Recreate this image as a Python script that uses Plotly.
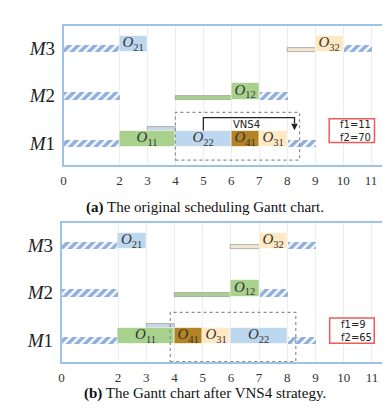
import plotly.graph_objects as go

# ---- data -------------------------------------------------------------
MACHINES = [1, 2, 3]
MACHINE_LABELS = ["<i>M</i>1", "<i>M</i>2", "<i>M</i>3"]
X_TICKS = [0, 2, 3, 4, 5, 6, 7, 8, 9, 10, 11]

# (a) original schedule
ops_a_name = ["11", "22", "41", "31", "12", "21", "32"]
ops_a_job = [1, 2, 4, 3, 1, 2, 3]
ops_a_machine = [1, 1, 1, 1, 2, 3, 3]
ops_a_start = [2, 4, 6, 7, 6, 2, 9]
ops_a_end = [4, 6, 7, 8, 7, 3, 10]

idle_a_machine = [1, 1, 2, 2, 3, 3]
idle_a_start = [0, 8, 0, 7, 0, 10]
idle_a_end = [2, 9, 2, 8, 2, 11]

wait_a_job = [2, 1, 3]
wait_a_machine = [1, 2, 3]
wait_a_start = [3, 4, 8]
wait_a_end = [4, 6, 9]

f_a = [11, 70]

# (b) after VNS4
ops_b_name = ["11", "41", "31", "22", "12", "21", "32"]
ops_b_job = [1, 4, 3, 2, 1, 2, 3]
ops_b_machine = [1, 1, 1, 1, 2, 3, 3]
ops_b_start = [2, 4, 5, 6, 6, 2, 7]
ops_b_end = [4, 5, 6, 8, 7, 3, 8]

idle_b_machine = [1, 1, 2, 2, 3, 3]
idle_b_start = [0, 8, 0, 7, 0, 8]
idle_b_end = [2, 9, 2, 8, 2, 9]

wait_b_job = [2, 1, 3]
wait_b_machine = [1, 2, 3]
wait_b_start = [3, 4, 6]
wait_b_end = [4, 6, 7]

f_b = [9, 65]

# ---- style ------------------------------------------------------------
JOB_COLORS = {1: "#A9D18E", 2: "#BDD7EE", 3: "#FEE9C2", 4: "#B38326"}
WAIT_COLORS = {1: "#A9D18E", 2: "#CAD6E8", 3: "#F2E6CF"}
HATCH = "#255DBE"
FRAME = "#9DC3E6"
SERIF = "Liberation Serif"

BOX_H = 0.34
IDLE_H = 0.15
WAIT_H = 0.085

fig = go.Figure()


def add_panel(xa, ya, names, jobs, mach, st, en,
              imach, ist, ien, wjob, wmach, wst, wen):
    xref = "x" if xa == 1 else "x%d" % xa
    yref = "y" if ya == 1 else "y%d" % ya
    # idle (hatched)
    fig.add_trace(go.Bar(
        orientation="h", base=ist,
        x=[e - s for s, e in zip(ist, ien)],
        y=[m + IDLE_H / 2 for m in imach], width=IDLE_H,
        marker=dict(color="white", opacity=1, line=dict(width=0),
                    pattern=dict(shape="/", fgcolor=HATCH, bgcolor="white",
                                 size=6, solidity=0.6)),
        xaxis=xref, yaxis=yref, showlegend=False, hoverinfo="skip"))
    # waiting bars (thin, dotted edge)
    wy = []
    for j, m, s, e in zip(wjob, wmach, wst, wen):
        busy = any(mm == m and ss < e and ee > s
                   for mm, ss, ee in zip(mach, st, en))
        wy.append(m + (BOX_H if busy else 0) + WAIT_H / 2)
    fig.add_trace(go.Bar(
        orientation="h", base=wst,
        x=[e - s for s, e in zip(wst, wen)], y=wy, width=WAIT_H,
        marker=dict(color=[WAIT_COLORS[j] for j in wjob], opacity=1,
                    line=dict(color="#A0A0A0", width=0.8)),
        xaxis=xref, yaxis=yref, showlegend=False, hoverinfo="skip"))
    # operations
    fig.add_trace(go.Bar(
        orientation="h", base=st,
        x=[e - s for s, e in zip(st, en)],
        y=[m + BOX_H / 2 for m in mach], width=BOX_H,
        marker=dict(color=[JOB_COLORS[j] for j in jobs], opacity=1,
                    line=dict(color="rgba(255,255,255,0.6)", width=1)),
        text=["<i>O</i><sub>%s</sub>" % n for n in names],
        textposition="inside", insidetextanchor="middle",
        constraintext="none", textangle=0,
        textfont=dict(family=SERIF, size=15, color="#333333"),
        xaxis=xref, yaxis=yref, showlegend=False, hoverinfo="skip"))


add_panel(1, 1, ops_a_name, ops_a_job, ops_a_machine, ops_a_start, ops_a_end,
          idle_a_machine, idle_a_start, idle_a_end,
          wait_a_job, wait_a_machine, wait_a_start, wait_a_end)
add_panel(2, 2, ops_b_name, ops_b_job, ops_b_machine, ops_b_start, ops_b_end,
          idle_b_machine, idle_b_start, idle_b_end,
          wait_b_job, wait_b_machine, wait_b_start, wait_b_end)

xcommon = dict(range=[0, 11.5], tickvals=X_TICKS, showgrid=True,
               gridcolor="#EDEDED", gridwidth=1, zeroline=False,
               showline=True, linecolor=FRAME, linewidth=1.5, mirror=True,
               ticks="", ticklabelstandoff=3,
               tickfont=dict(family=SERIF, size=13, color="#333333"))
ycommon = dict(range=[0.63, 3.54],
               tickvals=[m + 0.08 for m in MACHINES], ticktext=MACHINE_LABELS,
               showgrid=False, zeroline=False,
               showline=True, linecolor=FRAME, linewidth=1.5, mirror=True,
               ticks="outside", ticklen=3, tickcolor="rgba(0,0,0,0)",
               tickfont=dict(family=SERIF, size=19, color="#222222"))

shapes = [
    # dotted VNS4 window
    dict(type="rect", xref="x", yref="y", x0=4, x1=8.44, y0=0.73, y1=1.73,
         line=dict(color="#8C8C8C", width=1.2, dash="dot")),
    dict(type="rect", xref="x2", yref="y2", x0=3.85, x1=8.3, y0=0.64, y1=1.67,
         line=dict(color="#8C8C8C", width=1.2, dash="dot")),
    # VNS4 move bracket
    dict(type="path", xref="x", yref="y",
         path="M 5,1.35 L 5,1.62 L 8.26,1.62 L 8.26,1.5",
         line=dict(color="#222222", width=1.3)),
    # objective boxes
    dict(type="rect", xref="x", yref="y", x0=9.5, x1=11.12, y0=1.1, y1=1.6,
         line=dict(color="#F05A5A", width=1.5), fillcolor="white", layer="above"),
    dict(type="rect", xref="x2", yref="y2", x0=9.5, x1=11.08, y0=1.02, y1=1.55,
         line=dict(color="#F05A5A", width=1.5), fillcolor="white", layer="above"),
]

annotations = [
    dict(xref="x", yref="y", x=8.26, y=1.36, ax=8.26, ay=1.52,
         axref="x", ayref="y", text="", showarrow=True,
         arrowhead=2, arrowsize=1, arrowwidth=1.3, arrowcolor="#222222"),
    dict(xref="x", yref="y", x=6.55, y=1.48, text="VNS4", showarrow=False,
         font=dict(family="DejaVu Sans", size=10, color="#222222")),
    dict(xref="x", yref="y", x=9.82, y=1.35, xanchor="left",
         text="f1=%d<br>f2=%d" % (f_a[0], f_a[1]), showarrow=False, align="left",
         font=dict(family="DejaVu Sans", size=10, color="#222222")),
    dict(xref="x2", yref="y2", x=9.82, y=1.285, xanchor="left",
         text="f1=%d<br>f2=%d" % (f_b[0], f_b[1]), showarrow=False, align="left",
         font=dict(family="DejaVu Sans", size=10, color="#222222")),
    dict(xref="paper", yref="paper", x=0.5, y=1 - 199 / 418,
         text="<b>(a)</b> The original scheduling Gantt chart.", showarrow=False,
         font=dict(family=SERIF, size=15, color="#111111")),
    dict(xref="paper", yref="paper", x=0.5, y=1 - 396 / 418,
         text="<b>(b)</b> The Gantt chart after VNS4 strategy.", showarrow=False,
         font=dict(family=SERIF, size=15, color="#111111")),
]

fig.update_layout(
    width=390, height=418,
    margin=dict(l=0, r=0, t=0, b=0),
    paper_bgcolor="white", plot_bgcolor="white",
    barmode="overlay", bargap=0,
    showlegend=False,
    xaxis=dict(domain=[53 / 390, 377 / 390], anchor="y", **xcommon),
    yaxis=dict(domain=[1 - 157 / 418, 1 - 18 / 418], anchor="x", **ycommon),
    xaxis2=dict(domain=[51 / 390, 378 / 390], anchor="y2", **xcommon),
    yaxis2=dict(domain=[1 - 354 / 418, 1 - 215 / 418], anchor="x2", **ycommon),
    shapes=shapes,
    annotations=annotations,
)

fig.write_html("out.html")
